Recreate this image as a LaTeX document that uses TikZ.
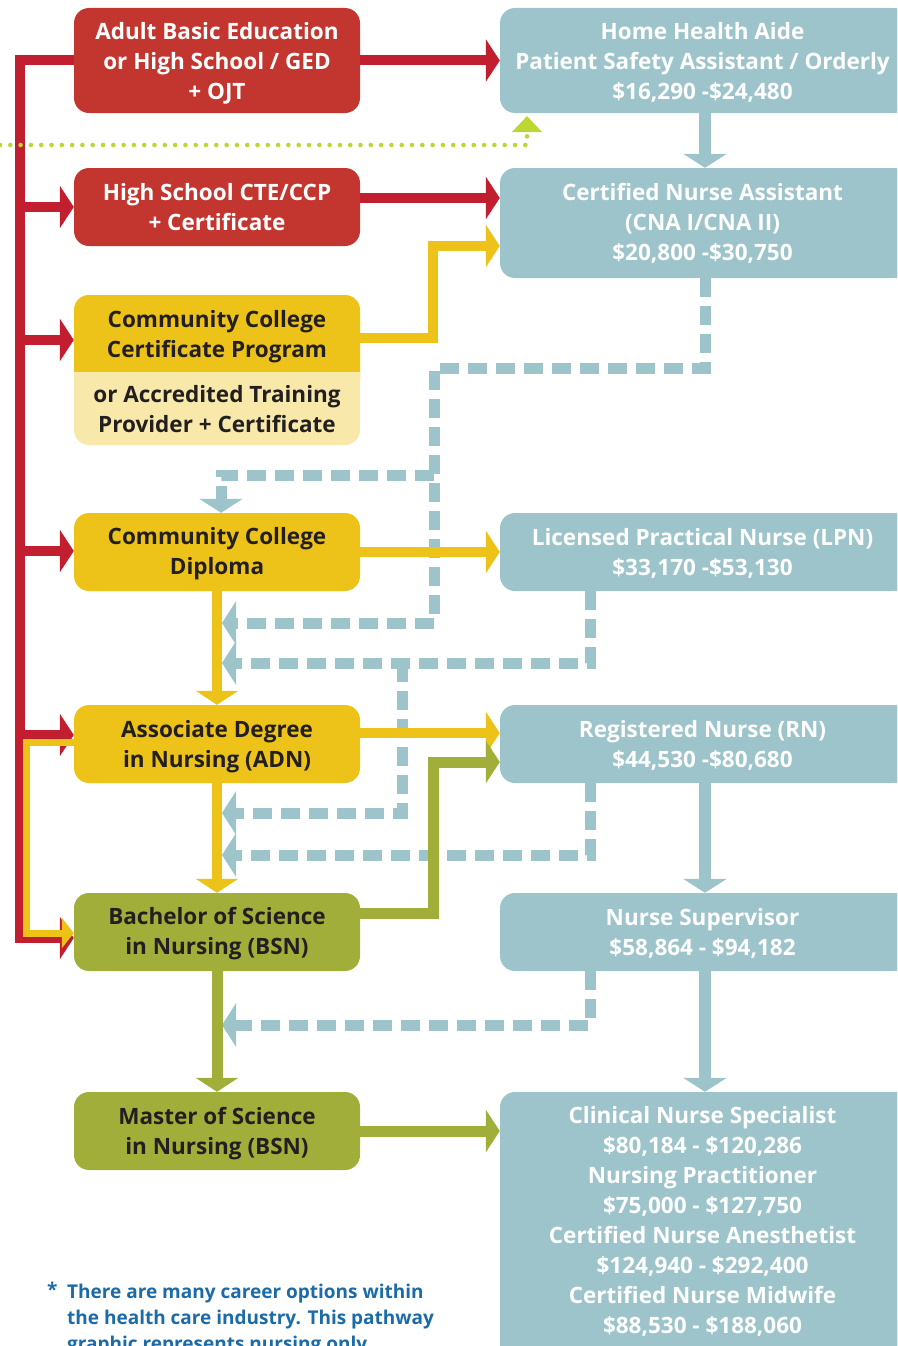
\documentclass[tikz,border=0pt]{standalone}
\usepackage{fontspec}
\setmainfont{Open Sans}
\usetikzlibrary{arrows.meta}
\definecolor{redbox}{HTML}{C3362F}
\definecolor{redln}{HTML}{C11F2F}
\definecolor{yel}{HTML}{EDC31A}
\definecolor{pale}{HTML}{F8E9AA}
\definecolor{oli}{HTML}{A1AE3A}
\definecolor{tea}{HTML}{9DC4CA}
\definecolor{lim}{HTML}{BDD631}
\definecolor{dark}{HTML}{231F20}
\definecolor{fnblue}{HTML}{1C6BA9}
\begin{document}
\begin{tikzpicture}[x=1pt,y=-1pt,
  txt/.style={inner sep=0pt, align=center, font=\fontsize{22.5}{30}\selectfont\bfseries},
  wt/.style={txt, text=white},
  dt/.style={txt, text=dark},
  box/.style={rounded corners=15pt, minimum width=286pt, inner sep=0pt},
  rbox/.style={box, fill=redbox},
  ybox/.style={box, fill=yel},
  obox/.style={box, fill=oli},
  tbox/.style={box, fill=tea, minimum width=405pt},
  redarr/.style={draw=redln, line width=10pt, -{Triangle[width=42pt,length=14pt]}},
  yelarr/.style={draw=yel, line width=10pt, -{Triangle[width=42pt,length=14pt]}},
  oliarr/.style={draw=oli, line width=11pt, -{Triangle[width=42pt,length=14pt]}},
  teaarr/.style={draw=tea, line width=12pt, -{Triangle[width=43pt,length=14pt]}},
  dashln/.style={draw=tea, line width=11pt, dash pattern=on 19pt off 9pt},
  dasharr/.style={dashln, -{Triangle[width=43pt,length=14pt]}},
  limedots/.style={draw=lim, line width=4.6pt, line cap=round, dash pattern=on 0pt off 10.3pt, -{Triangle[width=29pt,length=16pt]}},
]
\useasboundingbox (0,0) rectangle (897,1346);
\begin{scope}
\clip (0,0) rectangle (897,1346);
% right-side box extensions (boxes run off the page)
\fill[tea] (880,8) rectangle (910,113);
\fill[tea] (880,168) rectangle (910,278);
\fill[tea] (880,513) rectangle (910,591);
\fill[tea] (880,705) rectangle (910,783);
\fill[tea] (880,893) rectangle (910,971);
\fill[tea] (880,1092) rectangle (910,1360);
\fill[tea] (500,1320) rectangle (910,1360);

% left column boxes
\node[rbox, minimum height=105pt] (abe) at (217,60.5) {};
\node[rbox, minimum height=78pt] (hs) at (217,207) {};
\node[box, fill=pale, minimum height=150pt] (ccc) at (217,370) {};
\fill[yel, rounded corners=15pt] (74,295) rectangle (360,395);
\fill[pale] (74,372) rectangle (360,400);
\node[ybox, minimum height=78pt] (dip) at (217,552) {};
\node[ybox, minimum height=78pt] (adn) at (217,744) {};
\node[obox, minimum height=78pt] (bsn) at (217,932) {};
\node[obox, minimum height=78pt] (msn) at (217,1131) {};

% right column boxes
\node[tbox, minimum height=105pt] (hha) at (702.5,60.5) {};
\node[tbox, minimum height=110pt] (cna) at (702.5,223) {};
\node[tbox, minimum height=78pt] (lpn) at (702.5,552) {};
\node[tbox, minimum height=78pt] (rn) at (702.5,744) {};
\node[tbox, minimum height=78pt] (ns) at (702.5,932) {};
\node[tbox, minimum height=255pt] (cns) at (702.5,1219.5) {};

% box texts
\node[wt] (abe-t) at ([yshift=-2.5pt]abe.center) {Adult Basic Education\\or High School / GED\\+ OJT};
\node[wt] (hs-t) at ([yshift=-0.5pt]hs.center) {High School CTE/CCP\\+ Certificate};
\node[dt] (ccc-t) at (217,337) {Community College\\Certificate Program};
\node[dt] (ccc-p) at (217,409.5) {or Accredited Training\\Provider + Certificate};
\node[dt] (dip-t) at ([yshift=-2pt]dip.center) {Community College\\Diploma};
\node[dt] (adn-t) at ([yshift=-2.5pt]adn.center) {Associate Degree\\in Nursing (ADN)};
\node[dt] (bsn-t) at ([yshift=-2pt]bsn.center) {Bachelor of Science\\in Nursing (BSN)};
\node[dt] (msn-t) at ([yshift=-2.5pt]msn.center) {Master of Science\\in Nursing (BSN)};
\node[wt] (hha-t) at ([yshift=-2pt]hha.center) {Home Health Aide\\Patient Safety Assistant / Orderly\\\$16,290 -\$24,480};
\node[wt] (cna-t) at ([yshift=0pt]cna.center) {Certified Nurse Assistant\\(CNA I/CNA II)\\\$20,800 -\$30,750};
\node[wt] (lpn-t) at ([yshift=-1pt]lpn.center) {Licensed Practical Nurse (LPN)\\\$33,170 -\$53,130};
\node[wt] (rn-t) at ([yshift=-1pt]rn.center) {Registered Nurse (RN)\\\$44,530 -\$80,680};
\node[wt] (ns-t) at ([yshift=-1pt]ns.center) {Nurse Supervisor\\\$58,864 - \$94,182};
\node[wt] (cns-t) at ([yshift=-1.5pt]cns.center) {Clinical Nurse Specialist\\\$80,184 - \$120,286\\Nursing Practitioner\\\$75,000 - \$127,750\\Certified Nurse Anesthetist\\\$124,940 - \$292,400\\Certified Nurse Midwife\\\$88,530 - \$188,060};

% dashed teal connectors
\coordinate (d1a) at (705,368);
\coordinate (d1b) at (434,368);
\coordinate (d1c) at (434,623);
\coordinate (d1t) at (222,623);
\draw[dasharr] (cna.south -| d1a) -- (d1a) -- (d1b) -- (d1c) -- (d1t);
\coordinate (d5a) at (434,475);
\coordinate (d5b) at (221,475);
\draw[dasharr] (d5a) -- (d5b) -- (dip.north -| d5b);
\coordinate (d2a) at (590,663);
\coordinate (d2t) at (222,663);
\draw[dasharr] (lpn.south -| d2a) -- (d2a) -- (d2t);
\coordinate (d3a) at (402,663);
\coordinate (d3b) at (402,813);
\coordinate (d3t) at (222,813);
\draw[dasharr] (d3a) -- (d3b) -- (d3t);
\coordinate (d4a) at (590,855);
\coordinate (d4t) at (222,855);
\draw[dasharr] (rn.south -| d4a) -- (d4a) -- (d4t);
\coordinate (d6a) at (590,1025);
\coordinate (d6t) at (222,1025);
\draw[dasharr] (ns.south -| d6a) -- (d6a) -- (d6t);

% solid teal connectors
\coordinate (tx) at (705,0);
\draw[teaarr] (hha.south -| tx) -- (cna.north -| tx);
\draw[teaarr] (rn.south -| tx) -- (ns.north -| tx);
\draw[teaarr] (ns.south -| tx) -- (cns.north -| tx);

% yellow connectors
\coordinate (y1a) at (433,338);
\coordinate (y1b) at (433,246);
\draw[yelarr] (ccc.east |- y1a) -- (y1a) -- (y1b) -- (cna.west |- y1b);
\draw[yelarr] (dip.east) -- (lpn.west);
\draw[yelarr] (dip.south) -- (adn.north);
\coordinate (y2) at (0,733);
\draw[yelarr] (adn.east |- y2) -- (rn.west |- y2);
\draw[yelarr] (adn.south) -- (bsn.north);

% olive connectors
\coordinate (o1a) at (433,913);
\coordinate (o1b) at (433,762);
\draw[oliarr] (bsn.east |- o1a) -- (o1a) -- (o1b) -- (rn.west |- o1b);
\draw[oliarr] (bsn.south) -- (msn.north);
\draw[oliarr] (msn.east) -- (cns.west |- msn.east);

% red trunk
\coordinate (r0) at (20,60.5);
\coordinate (r1) at (20,938);
\draw[draw=redln, line width=10pt] (abe.west) -- (r0) -- (r1);
\coordinate (rb1) at (20,207);
\coordinate (rb2) at (20,340);
\coordinate (rb3) at (20,551);
\coordinate (rb4) at (20,735);
\draw[redarr] (rb1) -- (hs.west);
\draw[redarr] (rb2) -- (ccc.west |- rb2);
\draw[redarr] (rb3) -- (dip.west |- rb3);
\draw[redarr] (rb4) -- (adn.west |- rb4);
\draw[redarr] ([xshift=-5pt]r1) -- (bsn.west |- r1);
\draw[redarr] (abe.east) -- (hha.west);
\coordinate (rc) at (0,198);
\draw[redarr] (hs.east |- rc) -- (cna.west |- rc);

% yellow ADN -> BSN side path
\coordinate (ya) at (26,742);
\coordinate (yb) at (26,933);
\draw[draw=yel, line width=7pt, -{Triangle[width=30pt,length=12pt]}] (adn.west |- ya) -- (ya) -- (yb) -- (bsn.west |- yb);

% lime dotted line
\coordinate (g0) at (0,145);
\coordinate (g1) at (527,145);
\coordinate (gt) at (527,116);
\draw[limedots] (g0) -- (g1) -- (gt);

% footnote
\node[anchor=north west, inner sep=0pt, text=fnblue, font=\fontsize{19}{26}\selectfont\bfseries] (ast) at (47,1282) {*};
\node[anchor=north west, inner sep=0pt, text=fnblue, align=left, font=\fontsize{19}{26}\selectfont\bfseries] (fn) at (67,1284) {There are many career options within\\the health care industry. This pathway\\graphic represents nursing only.};
\end{scope}
\end{tikzpicture}
\end{document}
